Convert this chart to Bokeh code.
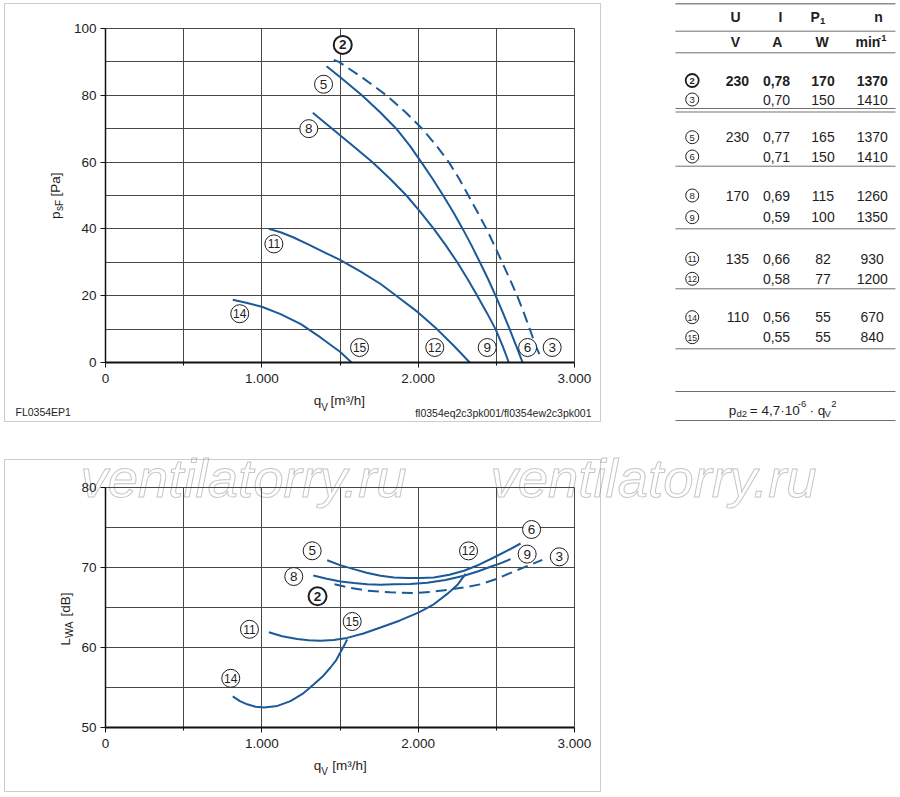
from bokeh.plotting import figure
from bokeh.models import Range1d, FixedTicker, Label, BoxAnnotation
from bokeh.layouts import column, row
from bokeh.embed import file_html
from bokeh.resources import INLINE
from bokeh.core.properties import value

FONT = "Liberation Sans"
BLUE = "#1b5a98"
INK = "#1e1e1e"
GRID = "#474747"

# ---------------- data: axes ----------------
q_ticks = [0, 1000, 2000, 3000]
q_tick_labels = ["0", "1.000", "2.000", "3.000"]
q_minor = [500, 1500, 2500]
q_grid = [500, 1000, 1500, 2000, 2500, 3000]
p_ticks = [0, 20, 40, 60, 80, 100]
p_grid = [10, 20, 30, 40, 50, 60, 70, 80, 90, 100]
L_ticks = [50, 60, 70, 80]
L_grid = [55, 60, 65, 70, 75, 80]

# ---------------- data: static pressure p_sF [Pa] vs q_V [m3/h] ----------------
c2_q = [1460, 1493, 1652, 1797, 1918, 2026, 2115, 2196, 2262, 2321, 2380, 2437,
        2488, 2537, 2586, 2633, 2675, 2714, 2752, 2790]
c2_p = [90.6, 90.0, 85.0, 80.0, 75.0, 70.0, 65.0, 60.0, 55.0, 50.0, 45.0, 40.0,
        35.0, 30.0, 25.0, 20.0, 15.0, 10.0, 5.0, 1.0]
c5_q = [1414, 1500, 1640, 1755, 1860, 1945, 2020, 2092, 2160, 2225, 2285, 2342,
        2395, 2447, 2495, 2541, 2585, 2627, 2668]
c5_p = [88.7, 85.5, 80.0, 75.0, 70.0, 65.0, 60.0, 55.0, 50.0, 45.0, 40.0, 35.0,
        30.0, 25.0, 20.0, 15.0, 10.0, 5.0, 0.0]
c8_q = [1326, 1450, 1580, 1706, 1820, 1925, 2015, 2100, 2178, 2250, 2316, 2378,
        2438, 2495, 2540, 2580]
c8_p = [74.8, 70.0, 65.0, 60.0, 55.0, 50.0, 45.0, 40.0, 35.0, 30.0, 25.0, 20.0,
        15.0, 10.0, 5.0, 0.0]
c11_q = [1045, 1120, 1200, 1300, 1400, 1500, 1630, 1760, 1860, 2000, 2120, 2228, 2330]
c11_p = [40.0, 39.0, 37.5, 35.3, 33.0, 30.7, 27.3, 23.5, 20.0, 15.0, 10.0, 5.0, 0.0]
c14_q = [814, 900, 1000, 1120, 1250, 1375, 1500, 1574]
c14_p = [18.8, 17.9, 16.7, 14.5, 11.5, 7.5, 3.2, 0.0]

# ---------------- data: sound power L_WA [dB] vs q_V [m3/h] ----------------
s2_q = [1465, 1570, 1674, 1820, 1973, 2080, 2186, 2290, 2399, 2505, 2612, 2700, 2794]
s2_L = [67.9, 67.45, 67.1, 66.9, 66.8, 66.95, 67.2, 67.5, 67.9, 68.6, 69.5, 70.2, 70.96]
s5_q = [1418, 1500, 1588, 1670, 1759, 1845, 1930, 2015, 2100, 2200, 2293, 2390, 2484, 2570, 2655]
s5_L = [70.9, 70.3, 69.8, 69.35, 68.96, 68.75, 68.7, 68.7, 68.75, 69.1, 69.6, 70.35, 71.25, 72.1, 73.0]
s8_q = [1329, 1415, 1503, 1590, 1674, 1760, 1845, 1950, 2058, 2175, 2293, 2380, 2463, 2530, 2591]
s8_L = [69.0, 68.6, 68.25, 68.05, 67.9, 67.85, 67.9, 67.95, 68.1, 68.45, 68.96, 69.5, 70.1, 70.55, 71.05]
s11_q = [1045, 1130, 1226, 1300, 1375, 1460, 1546, 1650, 1759, 1880, 2005, 2100, 2186, 2250, 2303]
s11_L = [61.9, 61.4, 61.05, 60.9, 60.85, 60.95, 61.2, 61.75, 62.5, 63.35, 64.4, 65.4, 66.7, 67.8, 69.2]
s14_q = [814, 860, 906, 960, 1013, 1100, 1183, 1260, 1333, 1390, 1439, 1475, 1503, 1528, 1546]
s14_L = [53.9, 53.3, 52.9, 52.6, 52.5, 52.7, 53.3, 54.2, 55.4, 56.4, 57.5, 58.4, 59.4, 60.3, 61.0]

# ---------------- data: table ----------------
tbl_ids = ["2", "3", "5", "6", "8", "9", "11", "12", "14", "15"]
tbl_U = ["230", "", "230", "", "170", "", "135", "", "110", ""]
tbl_I = ["0,78", "0,70", "0,77", "0,71", "0,69", "0,59", "0,66", "0,58", "0,56", "0,55"]
tbl_P1 = ["170", "150", "165", "150", "115", "100", "82", "77", "55", "55"]
tbl_n = ["1370", "1410", "1370", "1410", "1260", "1350", "930", "1200", "670", "840"]

# ---------------- layout constants (pixels) ----------------
PL, PW = 105, 469          # plot area left / width inside each chart canvas
QMAX = 3000
BASE_FIX = 0.3             # baseline correction (fraction of font size)


def no_title(p):
    try:
        p.title = None
    except Exception:
        p.title.visible = False


def make_chart(width, height, top, bottom, vmin, vmax):
    """Figure whose frame fills the canvas; the plot area is [0,3000]x[vmin,vmax]."""
    sx = QMAX / PW
    sy = (vmax - vmin) / (bottom - top)
    xr = Range1d(-PL * sx, (width - PL) * sx)
    yr = Range1d(vmin - (height - bottom) * sy, vmax + top * sy)
    p = figure(width=width, height=height, x_range=xr, y_range=yr,
               output_backend="svg", toolbar_location=None, min_border=0)
    no_title(p)
    p.outline_line_color = None
    p.background_fill_color = "white"
    p.border_fill_color = "white"
    fx = lambda cx: (cx - PL) * sx
    fy = lambda cy: vmin + (bottom - cy) * sy
    return p, fx, fy


def style_axes(p, vmin, vmax, yticks, ygrid):
    p.xaxis.fixed_location = vmin
    p.yaxis.fixed_location = 0
    p.xaxis.bounds = (0, QMAX)
    p.yaxis.bounds = (vmin, vmax)
    p.xaxis.ticker = FixedTicker(ticks=q_ticks, minor_ticks=q_minor)
    p.xaxis.major_label_overrides = {t: s for t, s in zip(q_ticks, q_tick_labels)}
    p.yaxis.ticker = FixedTicker(ticks=yticks, minor_ticks=[])
    for ax in (p.xaxis[0], p.yaxis[0]):
        ax.axis_label = None
        ax.major_tick_in = 0
        ax.major_tick_out = 5
        ax.minor_tick_in = 0
        ax.minor_tick_out = 3
        ax.axis_line_color = "#111111"
        ax.major_tick_line_color = "#111111"
        ax.minor_tick_line_color = "#111111"
        ax.major_label_text_font = FONT
        ax.major_label_text_font_size = "13.5px"
        ax.major_label_text_color = INK
    p.xaxis.axis_line_width = 2
    p.yaxis.axis_line_width = 1.5
    p.xaxis.major_label_standoff = 6
    p.yaxis.major_label_standoff = 4
    p.xgrid.ticker = FixedTicker(ticks=q_grid)
    p.ygrid.ticker = FixedTicker(ticks=ygrid)
    p.grid.grid_line_color = GRID
    p.grid.grid_line_width = 1
    try:
        p.xgrid.cross_bounds = (vmin, vmax)
        p.ygrid.cross_bounds = (0, QMAX)
    except Exception:
        p.grid.visible = False
        p.segment(x0=q_grid, y0=[vmin] * len(q_grid), x1=q_grid, y1=[vmax] * len(q_grid),
                  line_color=GRID, line_width=1)
        p.segment(x0=[0] * len(ygrid), y0=ygrid, x1=[QMAX] * len(ygrid), y1=ygrid,
                  line_color=GRID, line_width=1)


def add_marks(p, marks, sx, sy, size):
    for lbl, q, v, dx, dy in marks:
        x = q + dx * sx
        y = v - dy * sy
        bold = lbl == "2"
        p.scatter([x], [y], size=size, marker="circle", fill_color="white",
                  line_color=INK, line_width=2 if bold else 1)
        p.text([x], [y], text=[lbl], text_align="center", text_baseline="middle",
               text_font=value(FONT), text_font_size="13.5px" if len(lbl) == 1 else "12px",
               text_font_style="bold" if bold else "normal", text_color=INK)


def lab(p, fx, fy, cx, cy, text, size, rotated=False, **kw):
    fs = float(size.replace("px", ""))
    if rotated:
        cx -= BASE_FIX * fs
        kw["angle"] = 1.5708
    else:
        cy -= BASE_FIX * fs
    p.add_layout(Label(x=fx(cx), y=fy(cy), text=text, text_font=FONT,
                       text_font_size=size, text_color=INK,
                       text_baseline="alphabetic", **kw))

# ---------------- top chart ----------------
W1, H1 = 605, 440
T1, B1 = 28, 362
p1, X1, Y1 = make_chart(W1, H1, T1, B1, 0, 100)
style_axes(p1, 0, 100, p_ticks, p_grid)

p1.line(c2_q, c2_p, color=BLUE, line_width=2, line_dash="11 6")
for q, v in [(c5_q, c5_p), (c8_q, c8_p), (c11_q, c11_p), (c14_q, c14_p)]:
    p1.line(q, v, color=BLUE, line_width=2)

top_marks = [
    ("2", c2_q[0], c2_p[0], 9, -15), ("3", c2_q[-1], c2_p[-1], 10.5, -11.7),
    ("5", c5_q[0], c5_p[0], -3, 18), ("6", c5_q[-1], c5_p[-1], 5, -15),
    ("8", c8_q[0], c8_p[0], -4, 16), ("9", c8_q[-1], c8_p[-1], -21.6, -15),
    ("11", c11_q[0], c11_p[0], 5, 15), ("12", c11_q[-1], c11_p[-1], -35, -15),
    ("14", c14_q[0], c14_p[0], 7, 14), ("15", c14_q[-1], c14_p[-1], 8, -15),
]
add_marks(p1, top_marks, QMAX / PW, 100 / (B1 - T1), 18)

lab(p1, X1, Y1, 59, 218.5, "p", "13.5px", rotated=True, text_align="left")
lab(p1, X1, Y1, 62, 210.5, "sF", "10px", rotated=True, text_align="left")
lab(p1, X1, Y1, 59, 196, "[Pa]", "13.5px", rotated=True, text_align="left")
lab(p1, X1, Y1, 313.3, 404.5, "q", "13.5px", text_align="left")
lab(p1, X1, Y1, 320.7, 409.5, "V", "10px", text_align="left")
lab(p1, X1, Y1, 330, 404.5, "[m³/h]", "13.5px", text_align="left")
lab(p1, X1, Y1, 15, 414.5, "FL0354EP1", "10.5px", text_align="left")
lab(p1, X1, Y1, 591, 415.5, "fl0354eq2c3pk001/fl0354ew2c3pk001", "10.5px", text_align="right")
p1.add_layout(BoxAnnotation(left=X1(4), right=X1(600), top=Y1(3), bottom=Y1(421),
                            fill_alpha=0, line_color="#555555", line_width=1))

# ---------------- table ----------------
W2, H2 = 293, 440
OX = 605
pt = figure(width=W2, height=H2, x_range=Range1d(OX, OX + W2), y_range=Range1d(H2, 0),
            output_backend="svg", toolbar_location=None, min_border=0,
            x_axis_type=None, y_axis_type=None)
no_title(pt)
pt.grid.visible = False
pt.outline_line_color = None
line_y = [30.7, 52.3, 108, 111.5, 165.7, 228.3, 288.3, 348.3, 391, 420]
pt.segment(x0=[675] * len(line_y), y0=line_y, x1=[895] * len(line_y), y1=line_y,
           line_color="#707070", line_width=1)
pt.segment(x0=[675], y0=[3.3], x1=[895], y1=[3.3], line_color="#8c8c8c", line_width=1.6)
tf = dict(text_font=value(FONT), text_color=INK, text_baseline="middle")
pt.text([735, 780, 878], [16.7] * 3, text=["U", "I", "n"], text_align="center",
        text_font_size="14px", text_font_style="bold", **tf)
pt.text([810], [16.7], text=["P"], text_align="left", text_font_size="14px", text_font_style="bold", **tf)
pt.text([819.5], [20], text=["1"], text_align="left", text_font_size="9.5px", text_font_style="bold", **tf)
pt.text([735, 776.7, 821.7], [41.7] * 3, text=["V", "A", "W"], text_align="center",
        text_font_size="14px", text_font_style="bold", **tf)
pt.text([855], [41.7], text=["min"], text_align="left", text_font_size="14px", text_font_style="bold", **tf)
pt.text([877.5], [37.5], text=["-1"], text_align="left", text_font_size="9.5px", text_font_style="bold", **tf)

row_y = [80, 99, 136.7, 156, 195, 216.7, 258.3, 278.3, 316.7, 336.7]
for i, rid in enumerate(tbl_ids):
    y = row_y[i]
    bold = i == 0
    st = "bold" if bold else "normal"
    pt.scatter([691.7], [y], size=13, marker="circle", fill_color="white",
               line_color=INK, line_width=1.8 if bold else 1)
    pt.text([691.7], [y + 0.5], text=[rid], text_align="center",
            text_font_size="9.5px" if len(rid) == 1 else "8.5px", text_font_style=st, **tf)
    pt.text([748.5], [y], text=[tbl_U[i]], text_align="right", text_font_size="14px", text_font_style=st, **tf)
    pt.text([776], [y], text=[tbl_I[i]], text_align="center", text_font_size="14px", text_font_style=st, **tf)
    pt.text([822.5], [y], text=[tbl_P1[i]], text_align="center", text_font_size="14px", text_font_style=st, **tf)
    pt.text([871.7], [y], text=[tbl_n[i]], text_align="center", text_font_size="14px", text_font_style=st, **tf)

fb = dict(text_font=value(FONT), text_color=INK, text_baseline="alphabetic", text_align="left")
FY = 409.5   # formula baseline (corrected)
pt.text([728.3], [FY], text=["p"], text_font_size="13.5px", **fb)
pt.text([736], [FY + 3.5], text=["d2"], text_font_size="9.5px", **fb)
pt.text([749.3], [FY], text=["= 4,7·10"], text_font_size="13.5px", **fb)
pt.text([797.3], [FY - 6.5], text=["-6"], text_font_size="9.5px", **fb)
pt.text([809], [FY], text=["·"], text_font_size="13.5px", **fb)
pt.text([817.3], [FY], text=["q"], text_font_size="13.5px", **fb)
pt.text([824], [FY + 3.5], text=["V"], text_font_size="9.5px", **fb)
pt.text([830.7], [FY - 6.5], text=["2"], text_font_size="9.5px", **fb)

# ---------------- bottom chart ----------------
W3, H3 = 898, 356
T3, B3 = 47, 287
p3, X3, Y3 = make_chart(W3, H3, T3, B3, 50, 80)
style_axes(p3, 50, 80, L_ticks, L_grid)

for wx in (80, 490):
    p3.add_layout(Label(x=X3(wx), y=Y3(54 - BASE_FIX * 54.5), text="ventilatorry.ru", text_font=FONT,
                        text_font_style="italic", text_font_size="54.5px", text_color="white",
                        text_outline_color="#c6c6c6", text_align="left",
                        text_baseline="alphabetic", level="image"))

p3.line(s2_q, s2_L, color=BLUE, line_width=2, line_dash="11 6")
for q, v in [(s5_q, s5_L), (s8_q, s8_L), (s11_q, s11_L), (s14_q, s14_L)]:
    p3.line(q, v, color=BLUE, line_width=2)

bot_marks = [
    ("2", s2_q[0], s2_L[0], -17, 12), ("3", s2_q[-1], s2_L[-1], 17, -3),
    ("5", s5_q[0], s5_L[0], -15, -9.5), ("6", s5_q[-1], s5_L[-1], 11, -14),
    ("8", s8_q[0], s8_L[0], -19.5, 1), ("9", s8_q[-1], s8_L[-1], 16.6, -5),
    ("11", s11_q[0], s11_L[0], -19.4, -3), ("12", s11_q[-1], s11_L[-1], 3, -23),
    ("14", s14_q[0], s14_L[0], -2, -18), ("15", s14_q[-1], s14_L[-1], 5, -18),
]
add_marks(p3, bot_marks, QMAX / PW, 30 / (B3 - T3), 18)

lab(p3, X3, Y3, 69, 205, "L", "13.5px", rotated=True, text_align="left")
lab(p3, X3, Y3, 72, 197.5, "WA", "10.5px", rotated=True, text_align="left")
lab(p3, X3, Y3, 69, 176, "[dB]", "13.5px", rotated=True, text_align="left")
lab(p3, X3, Y3, 313.3, 329, "q", "13.5px", text_align="left")
lab(p3, X3, Y3, 320.7, 334, "V", "10px", text_align="left")
lab(p3, X3, Y3, 331.7, 329, "[m³/h]", "13.5px", text_align="left")
p3.add_layout(BoxAnnotation(left=X3(4), right=X3(600), top=Y3(19), bottom=Y3(351),
                            fill_alpha=0, line_color="#555555", line_width=1))

layout = column(row(p1, pt), p3)
open("out.html", "w").write(file_html(layout, INLINE))
